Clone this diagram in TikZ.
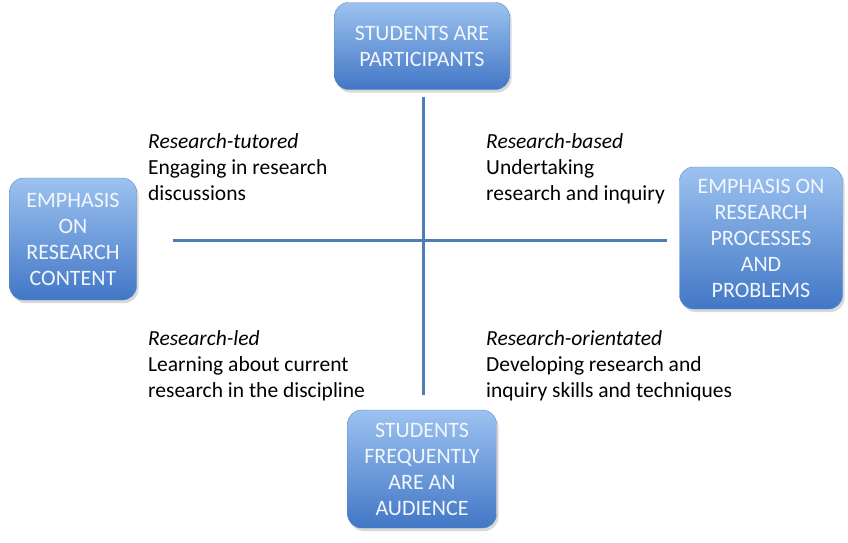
\documentclass[tikz,border=0pt]{standalone}
\usepackage{fontspec}
\setmainfont{Carlito}
\usetikzlibrary{positioning,shadows}
\definecolor{BoxTop}{HTML}{9CC2F0}
\definecolor{BoxBottom}{HTML}{4277C6}
\definecolor{BoxBorder}{HTML}{5C8AC9}
\definecolor{BoxText}{HTML}{F2F7FD}
\definecolor{AxisBlue}{HTML}{4F7DB8}
\tikzstyle{EmphasisNode}=[rectangle, draw=BoxBorder, top color=BoxTop, bottom color=BoxBottom, rounded corners=14pt, text=BoxText, align=center, inner sep=2pt, font=\fontsize{22}{26}\selectfont, drop shadow={opacity=0.3, shadow xshift=2pt, shadow yshift=-3pt}]
\tikzstyle{ModeNode}=[anchor=north west, align=left, inner sep=0pt, font=\fontsize{21.5}{26}\selectfont]
\tikzstyle{AxisLine}=[draw=AxisBlue, line width=3pt]

\begin{document}
\begin{tikzpicture}[x=1pt, y=-1pt]
    \useasboundingbox (0,0) rectangle (848,542);

    % the four poles
    \node (participants) [EmphasisNode, minimum width=175pt, minimum height=87pt] at (422,46) {STUDENTS ARE\\PARTICIPANTS};
    \node (content) [EmphasisNode, minimum width=127pt, minimum height=122pt] at (73,239) {EMPHASIS\\ON\\RESEARCH\\CONTENT};
    \node (processes) [EmphasisNode, minimum width=163pt, minimum height=142pt] at (761,238) {EMPHASIS ON\\RESEARCH\\PROCESSES\\AND\\PROBLEMS};
    \node (audience) [EmphasisNode, minimum width=149pt, minimum height=118pt] at (422,469) {STUDENTS\\FREQUENTLY\\ARE AN\\AUDIENCE};

    % axes
    \coordinate (AxisTop) at (423,97);
    \coordinate (AxisBottom) at (423,395);
    \coordinate (AxisLeft) at (173,240);
    \coordinate (AxisRight) at (667,240);
    \draw [AxisLine] (AxisTop) -- (AxisBottom);
    \draw [AxisLine] (AxisLeft) -- (AxisRight);

    % quadrants
    \node (tutored) [ModeNode] at (148,133) {\textit{Research-tutored}\\Engaging in research\\discussions};
    \node (based) [ModeNode] at (486,133) {\textit{Research-based}\\Undertaking\\research and inquiry};
    \node (led) [ModeNode] at (148,330) {\textit{Research-led}\\Learning about current\\research in the discipline};
    \node (orientated) [ModeNode] at (486,330) {\textit{Research-orientated}\\Developing research and\\inquiry skills and techniques};
\end{tikzpicture}
\end{document}
